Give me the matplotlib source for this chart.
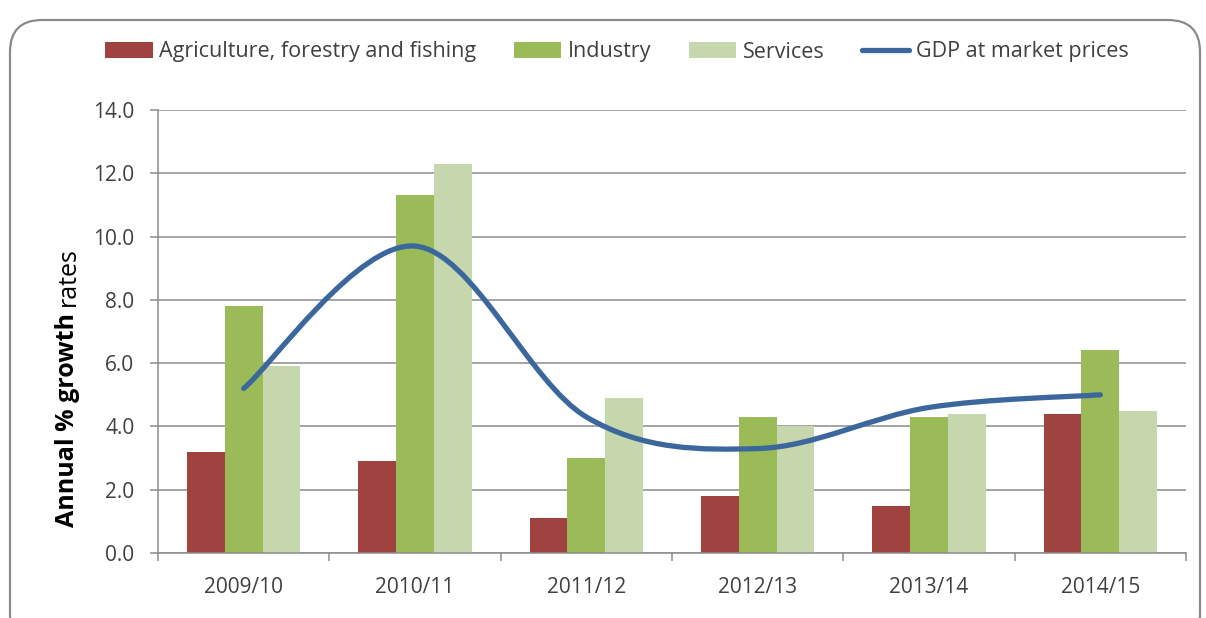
import numpy as np
import matplotlib
matplotlib.use("Agg")
import matplotlib.pyplot as plt
from matplotlib.path import Path
from matplotlib.patches import PathPatch, FancyBboxPatch
from matplotlib.lines import Line2D

# data
years = ["2009/10", "2010/11", "2011/12", "2012/13", "2013/14", "2014/15"]
agriculture = [3.2, 2.9, 1.1, 1.8, 1.5, 4.4]
industry = [7.8, 11.3, 3.0, 4.3, 4.3, 6.4]
services = [5.9, 12.3, 4.9, 4.0, 4.4, 4.5]
gdp = [5.2, 9.7, 4.3, 3.3, 4.6, 5.0]

plt.rcParams['font.family'] = ['Open Sans', 'DejaVu Sans']
txt = '#404040'
gray = '#8c8c8c'

fig = plt.figure(figsize=(12.06, 6.18), dpi=100)
ax = fig.add_axes([158/1206, 65/618, 1028/1206, 443/618])

x = np.arange(len(years))
w = 0.22
b1 = ax.bar(x - w, agriculture, w, color='#a04340', label='Agriculture, forestry and fishing', zorder=2)
b2 = ax.bar(x, industry, w, color='#9bbb59', label='Industry', zorder=2)
b3 = ax.bar(x + w, services, w, color='#c6d7ae', label='Services', zorder=2)

# smoothed line like Excel (catmull-rom as bezier curves)
pts = np.column_stack([x, gdp]).astype(float)
ext = np.vstack([pts[0], pts, pts[-1]])
verts = [tuple(pts[0])]
codes = [Path.MOVETO]
for i in range(len(pts) - 1):
    p0, p1, p2, p3 = ext[i], ext[i+1], ext[i+2], ext[i+3]
    c1 = p1 + (p2 - p0) / 6
    c2 = p2 - (p3 - p1) / 6
    verts += [tuple(c1), tuple(c2), tuple(p2)]
    codes += [Path.CURVE4] * 3
line_col = '#3b679c'
ax.add_patch(PathPatch(Path(verts, codes), fill=False, edgecolor=line_col, lw=3.8,
                       capstyle='round', joinstyle='round', zorder=3))
gdp_handle = Line2D([], [], color=line_col, lw=3.8, solid_capstyle='round')

ax.set_xlim(-0.5, len(years) - 0.5)
ax.set_ylim(0, 14)
ax.set_yticks(np.arange(0, 14.1, 2))
ax.set_yticklabels(["%.1f" % v for v in np.arange(0, 14.1, 2)])
ax.yaxis.grid(True, color=gray, lw=1.1, zorder=0)
ax.set_axisbelow(True)

ax.set_xticks(np.arange(-0.5, len(years), 1))
ax.set_xticklabels([])
ax.set_xticks(x, minor=True)
ax.set_xticklabels(years, minor=True)
ax.tick_params(axis='x', which='major', length=6, width=1.1, color=gray, direction='out')
ax.tick_params(axis='x', which='minor', length=0, pad=17, labelsize=15, labelcolor=txt)
ax.tick_params(axis='y', length=6, width=1.1, color=gray, pad=11, labelsize=15, labelcolor=txt)

for s in ['top', 'right']:
    ax.spines[s].set_visible(False)
for s in ['left', 'bottom']:
    ax.spines[s].set_color(gray)
    ax.spines[s].set_linewidth(1.1)

fig.text(68/1206, (618-527)/618, "Annual % growth", rotation=90, ha='center', va='bottom',
         fontsize=18, fontweight='bold', color='black')
fig.text(68/1206, (618-247)/618, "rates", rotation=90, ha='center', va='top',
         fontsize=18, color='black')

fig.legend([b1, b2, b3, gdp_handle],
           ['Agriculture, forestry and fishing', 'Industry', 'Services', 'GDP at market prices'],
           loc='center', bbox_to_anchor=(617/1206, (618-52)/618), ncol=4, frameon=False,
           fontsize=15.5, labelcolor=txt, handlelength=2.2, handleheight=0.7,
           handletextpad=0.3, columnspacing=1.75)

border = FancyBboxPatch((0.10, -0.3), 11.9, 6.28, boxstyle="round,pad=0,rounding_size=0.32",
                        transform=fig.dpi_scale_trans, fill=False, edgecolor='#8a8a8a', lw=1.6)
fig.patches.append(border)

fig.savefig("out.png", dpi=100)
